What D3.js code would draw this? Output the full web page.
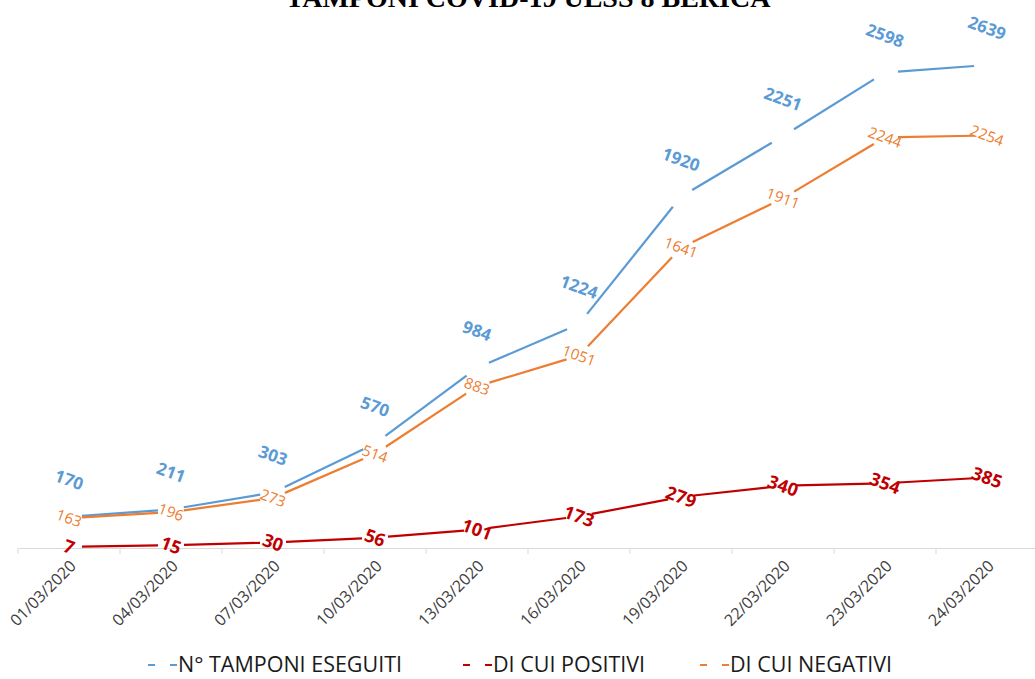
<!DOCTYPE html>
<html>
<head>
<meta charset="utf-8">
<script src="https://cdn.jsdelivr.net/npm/d3@7"></script>
<style>
body { margin: 0; background: #fff; }
svg { display: block; }
</style>
</head>
<body>
<svg id="chart" width="1035" height="679"></svg>
<script>
var dates = ['01/03/2020','04/03/2020','07/03/2020','10/03/2020','13/03/2020',
	'16/03/2020','19/03/2020','22/03/2020','23/03/2020','24/03/2020'];
var eseguiti = [170, 211, 303, 570, 984, 1224, 1920, 2251, 2598, 2639];
var positivi = [7, 15, 30, 56, 101, 173, 279, 340, 354, 385];
var negativi = [163, 196, 273, 514, 883, 1051, 1641, 1911, 2244, 2254];
var seriesNames = ['N° TAMPONI ESEGUITI', 'DI CUI POSITIVI', 'DI CUI NEGATIVI'];

var svg = d3.select('#chart');

var x = d3.scaleBand().domain(dates).range([18, 1038]).padding(0);
var y = d3.scaleLinear().domain([0, 3000]).range([548, -1]);

// title, mostly cut off at the top like the original
svg.append('text')
	.attr('x', 528)
	.attr('y', 7)
	.attr('text-anchor', 'middle')
	.attr('font-family', 'Liberation Serif, serif')
	.attr('font-weight', 'bold')
	.attr('font-size', '28px')
	.attr('fill', '#000')
	.text('TAMPONI COVID-19 ULSS 8 BERICA');

// x axis
var axis = svg.append('g')
	.attr('transform', 'translate(0,548)')
	.call(d3.axisBottom(x).tickSize(0).tickFormat(''));
axis.select('.domain').attr('stroke', '#d9d9d9').attr('stroke-width', 1.2);
axis.selectAll('.tickmark')
	.data(d3.range(dates.length + 1))
	.enter()
	.append('line')
	.attr('x1', function(i){ return 18 + i*x.step(); })
	.attr('x2', function(i){ return 18 + i*x.step(); })
	.attr('y1', 0)
	.attr('y2', 6)
	.attr('stroke', '#d9d9d9');

svg.selectAll('.xlab')
	.data(dates)
	.enter()
	.append('text')
	.attr('class', 'xlab')
	.attr('transform', function(d){
		var cx = x(d) + x.bandwidth()/2;
		return 'translate(' + (cx + 8) + ',567) rotate(-45)';
	})
	.attr('text-anchor', 'end')
	.attr('font-family', 'Open Sans, sans-serif')
	.attr('font-size', '16px')
	.attr('fill', '#404040')
	.text(function(d){ return d; });

var series = [
	{name: seriesNames[0], values: eseguiti, color: '#5b9bd5', labColor: '#5b9bd5', weight: 'bold', size: 17, dy: -37},
	{name: seriesNames[1], values: positivi, color: '#c00000', labColor: '#c00000', weight: 'bold', size: 18, dy: 0},
	{name: seriesNames[2], values: negativi, color: '#ed7d31', labColor: '#ed7d31', weight: 'normal', size: 15, dy: 0}
];

var gap = 13;
series.forEach(function(s){
	var pts = s.values.map(function(v, i){
		return [x(dates[i]) + x.bandwidth()/2, y(v)];
	});
	var segs = [];
	for (var i = 0; i < pts.length - 1; i++){
		var a = pts[i], b = pts[i+1];
		var len = Math.hypot(b[0]-a[0], b[1]-a[1]);
		var ux = (b[0]-a[0])/len, uy = (b[1]-a[1])/len;
		segs.push([a[0]+ux*gap, a[1]+uy*gap, b[0]-ux*gap, b[1]-uy*gap]);
	}
	svg.append('g').selectAll('line')
		.data(segs)
		.enter()
		.append('line')
		.attr('x1', function(d){ return d[0]; })
		.attr('y1', function(d){ return d[1]; })
		.attr('x2', function(d){ return d[2]; })
		.attr('y2', function(d){ return d[3]; })
		.attr('stroke', s.color)
		.attr('stroke-width', 2.2);

	svg.append('g').selectAll('text')
		.data(s.values)
		.enter()
		.append('text')
		.attr('transform', function(d, i){
			return 'translate(' + pts[i][0] + ',' + (pts[i][1] + s.dy) + ') rotate(20)';
		})
		.attr('text-anchor', 'middle')
		.attr('dy', '0.35em')
		.attr('font-family', 'Open Sans, sans-serif')
		.attr('font-weight', s.weight)
		.attr('font-size', s.size + 'px')
		.attr('fill', s.labColor)
		.text(function(d){ return d; });
});

// legend
var legX = [148, 463, 700];
var leg = svg.append('g').selectAll('g')
	.data(series)
	.enter()
	.append('g')
	.attr('transform', function(d, i){ return 'translate(' + legX[i] + ',665)'; });
leg.append('line')
	.attr('x1', 0).attr('x2', 29)
	.attr('y1', 0).attr('y2', 0)
	.attr('stroke', function(d){ return d.color; })
	.attr('stroke-width', 2)
	.attr('stroke-dasharray', '7,15');
leg.append('text')
	.attr('x', 30)
	.attr('y', 7)
	.attr('font-family', 'Open Sans, sans-serif')
	.attr('font-size', '21.5px')
	.attr('fill', '#1a1a1a')
	.text(function(d){ return d.name; });
</script>
</body>
</html>
